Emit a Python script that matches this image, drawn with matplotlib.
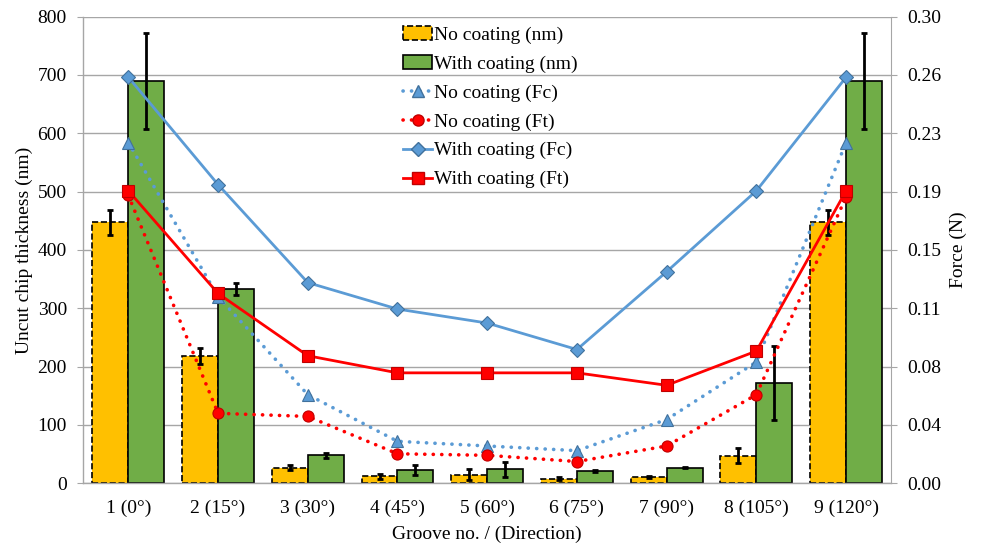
import numpy as np
import matplotlib.pyplot as plt
from matplotlib.lines import Line2D
from matplotlib.patches import Patch

plt.rcParams['font.family'] = ['Liberation Serif', 'DejaVu Serif']

# groove labels
grooves = ["1 (0°)", "2 (15°)", "3 (30°)", "4 (45°)", "5 (60°)",
           "6 (75°)", "7 (90°)", "8 (105°)", "9 (120°)"]

# uncut chip thickness (nm) with error bars
chip_no = [447, 218, 27, 12, 15, 8, 11, 47, 447]
chip_no_err = [22, 14, 4, 4, 9, 2, 1.5, 13, 22]
chip_with = [690, 333, 48, 23, 24, 21, 27, 172, 690]
chip_with_err = [82, 11, 4, 9, 13, 2, 1.5, 63, 82]

# forces (N)
fc_no = [0.219, 0.120, 0.057, 0.027, 0.024, 0.021, 0.041, 0.078, 0.219]
ft_no = [0.185, 0.045, 0.043, 0.019, 0.018, 0.014, 0.024, 0.057, 0.184]
fc_with = [0.261, 0.192, 0.129, 0.112, 0.103, 0.086, 0.136, 0.188, 0.261]
ft_with = [0.188, 0.122, 0.082, 0.071, 0.071, 0.071, 0.063, 0.085, 0.188]

chip_ticks = [0, 100, 200, 300, 400, 500, 600, 700, 800]
force_ticks = [0, 0.0375, 0.075, 0.1125, 0.15, 0.1875, 0.225, 0.2625, 0.30]
force_labels = ["0.00", "0.04", "0.08", "0.11", "0.15", "0.19", "0.23", "0.26", "0.30"]

YELLOW = '#FFC000'
GREEN = '#70AD47'
BLUE = '#5B9BD5'
RED = '#FF0000'
GRID = '#A6A6A6'

fig = plt.figure(figsize=(9.81, 5.47), dpi=100)
ax = fig.add_axes([0.0851, 0.1164, 0.8231, 0.8534])

x = np.arange(len(grooves))
w = 0.4

# -------- bars --------
ax.bar(x - w / 2, chip_no, w, color=YELLOW, edgecolor='black',
       linestyle='--', linewidth=1.2, zorder=2)
ax.bar(x + w / 2, chip_with, w, color=GREEN, edgecolor='black',
       linewidth=1.2, zorder=2)
ax.errorbar(x - w / 2, chip_no, yerr=chip_no_err, fmt='none', ecolor='black',
            elinewidth=2, capsize=2.2, capthick=2, zorder=3)
ax.errorbar(x + w / 2, chip_with, yerr=chip_with_err, fmt='none', ecolor='black',
            elinewidth=2, capsize=2.2, capthick=2, zorder=3)

ax.set_xlim(-0.5, len(grooves) - 0.5)
ax.set_ylim(0, 800)
ax.set_yticks(chip_ticks)
ax.set_xticks(x)
ax.set_xticklabels(grooves)
ax.yaxis.grid(True, color=GRID, linewidth=1.0)
ax.set_axisbelow(True)
for s in ['top', 'right']:
    ax.spines[s].set_visible(False)
for s in ['left', 'bottom']:
    ax.spines[s].set_color(GRID)
    ax.spines[s].set_linewidth(1.0)
ax.tick_params(axis='x', length=0, pad=12, labelsize=14)
ax.tick_params(axis='y', length=4, color=GRID, pad=8, labelsize=14)
ax.set_ylabel("Uncut chip thickness (nm)", fontsize=14)
ax.yaxis.set_label_coords(-0.062, 0.5)
ax.set_xlabel("Groove no. / (Direction)", fontsize=14)
ax.xaxis.set_label_coords(0.5, -0.09)

# -------- force lines --------
ax2 = ax.twinx()
ax2.set_ylim(0, 0.30)
ax2.set_yticks(force_ticks)
ax2.set_yticklabels(force_labels)
for s in ['top', 'left', 'bottom']:
    ax2.spines[s].set_visible(False)
ax2.spines['right'].set_color(GRID)
ax2.tick_params(axis='y', length=4, color=GRID, pad=8, labelsize=14)
ax2.set_ylabel("Force (N)", fontsize=14)
ax2.yaxis.set_label_coords(1.073, 0.5)

dots = (0, (0.05, 2.3))
ax2.plot(x, fc_no, color=BLUE, linestyle=dots, linewidth=2.6, dash_capstyle='round',
         marker='^', markersize=9, markerfacecolor=BLUE, markeredgecolor='#41719C',
         markeredgewidth=0.8)
ax2.plot(x, ft_no, color=RED, linestyle=dots, linewidth=2.6, dash_capstyle='round',
         marker='o', markersize=8, markerfacecolor=RED, markeredgecolor='#C00000',
         markeredgewidth=0.8)
ax2.plot(x, fc_with, color=BLUE, linewidth=2, marker='D', markersize=7.5,
         markerfacecolor=BLUE, markeredgecolor='#41719C', markeredgewidth=0.8)
ax2.plot(x, ft_with, color=RED, linewidth=2, marker='s', markersize=8,
         markerfacecolor=RED, markeredgecolor='#C00000', markeredgewidth=0.8)

# -------- legend --------
handles = [
    Patch(facecolor=YELLOW, edgecolor='black', linestyle='--', linewidth=1.2),
    Patch(facecolor=GREEN, edgecolor='black', linewidth=1.2),
    Line2D([], [], color=BLUE, linestyle=dots, linewidth=2.6, dash_capstyle='round',
           marker='^', markersize=9, markerfacecolor=BLUE, markeredgecolor='#41719C'),
    Line2D([], [], color=RED, linestyle=dots, linewidth=2.6, dash_capstyle='round',
           marker='o', markersize=8, markerfacecolor=RED, markeredgecolor='#C00000'),
    Line2D([], [], color=BLUE, linewidth=2, marker='D', markersize=7.5,
           markerfacecolor=BLUE, markeredgecolor='#41719C'),
    Line2D([], [], color=RED, linewidth=2, marker='s', markersize=8,
           markerfacecolor=RED, markeredgecolor='#C00000'),
]
labels = ["No coating (nm)", "With coating (nm)", "No coating (Fc)",
          "No coating (Ft)", "With coating (Fc)", "With coating (Ft)"]
ax2.legend(handles, labels, loc='upper left', bbox_to_anchor=(403 / 981, 1 - 26 / 547),
           bbox_transform=fig.transFigure, frameon=False, borderpad=0,
           borderaxespad=0, handlelength=1.5, handletextpad=0.1,
           labelspacing=0.58, fontsize=14)

plt.savefig("out.png", dpi=100)
